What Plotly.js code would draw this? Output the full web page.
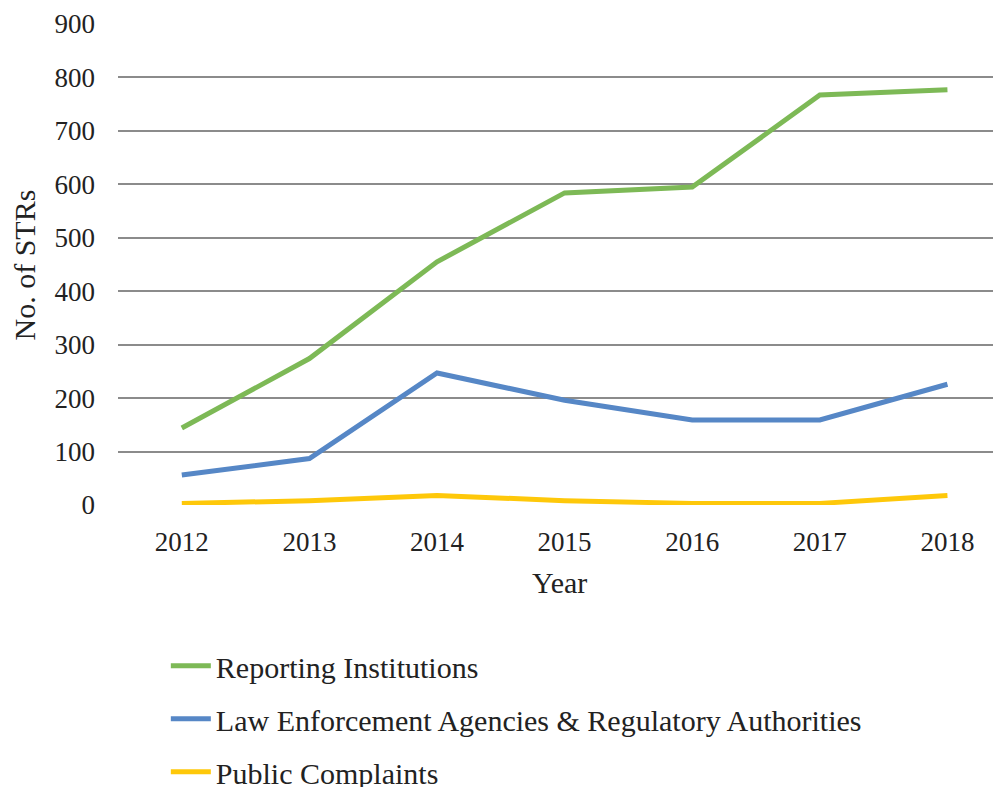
<!DOCTYPE html>
<html>
<head>
<meta charset="utf-8">
<script src="https://cdn.plot.ly/plotly-3.0.1.min.js"></script>
<style>html,body{margin:0;padding:0;background:#fff;}#chart{width:993px;height:787px;}</style>
</head>
<body>
<div id="chart"></div>
<script>
const years = ["2012","2013","2014","2015","2016","2017","2018"];
const reportingInstitutions = [144, 274, 455, 584, 595, 767, 777];
const lawEnforcement = [56, 87, 247, 196, 159, 159, 226];
const publicComplaints = [3, 8, 18, 8, 3, 3, 18];
const seriesNames = ["Reporting Institutions", "Law Enforcement Agencies & Regulatory Authorities", "Public Complaints"];
const seriesColors = ["#7db956", "#5687c6", "#fec80a"];
const yTicks = [0,100,200,300,400,500,600,700,800,900];
const xTitle = "Year";
const yTitle = "No. of STRs";

const fontFam = "'Liberation Serif', 'Times New Roman', serif";
const allSeries = [reportingInstitutions, lawEnforcement, publicComplaints];
const traces = allSeries.map((vals, i) => ({
  x: years, y: vals, type: 'scatter', mode: 'lines',
  name: seriesNames[i], legendgroup: 'g' + i,
  line: {color: seriesColors[i], width: 5}
}));

const layout = {
  width: 993, height: 787,
  margin: {l: 118, r: 0, t: 24, b: 282, autoexpand: false},
  paper_bgcolor: '#fff', plot_bgcolor: '#fff',
  font: {family: fontFam, size: 27, color: '#222'},
  showlegend: true,
  legend: {
    xref: 'container', yref: 'container',
    x: 0.167, y: 0.187, xanchor: 'left', yanchor: 'top',
    orientation: 'v', traceorder: 'grouped', tracegroupgap: 11,
    font: {family: fontFam, size: 30, color: '#222'},
    itemwidth: 40, bgcolor: 'rgba(0,0,0,0)'
  },
  xaxis: {
    type: 'category', range: [-0.5, 6.357],
    showgrid: false, zeroline: false, showline: false,
    ticks: '', tickfont: {family: fontFam, size: 27, color: '#222'},
    ticklabelstandoff: 18, tickangle: 0
  },
  yaxis: {
    range: [0, 900], tickvals: yTicks, ticktext: yTicks.map(String),
    showgrid: true, gridcolor: '#8b8b8b', gridwidth: 2,
    zeroline: false, showline: false, ticks: '',
    tickfont: {family: fontFam, size: 27, color: '#222'},
    ticklabelstandoff: 22
  },
  annotations: [
    {text: xTitle, xref: 'paper', yref: 'paper', x: 0.505, y: -0.162,
     xanchor: 'center', yanchor: 'middle', showarrow: false,
     font: {family: fontFam, size: 30, color: '#222'}},
    {text: yTitle, xref: 'paper', yref: 'paper', x: -0.1063, y: 0.5,
     xanchor: 'center', yanchor: 'middle', showarrow: false, textangle: -90,
     font: {family: fontFam, size: 30, color: '#222'}}
  ]
};
Plotly.newPlot('chart', traces, layout, {displayModeBar: false, staticPlot: true});
</script>
</body>
</html>
